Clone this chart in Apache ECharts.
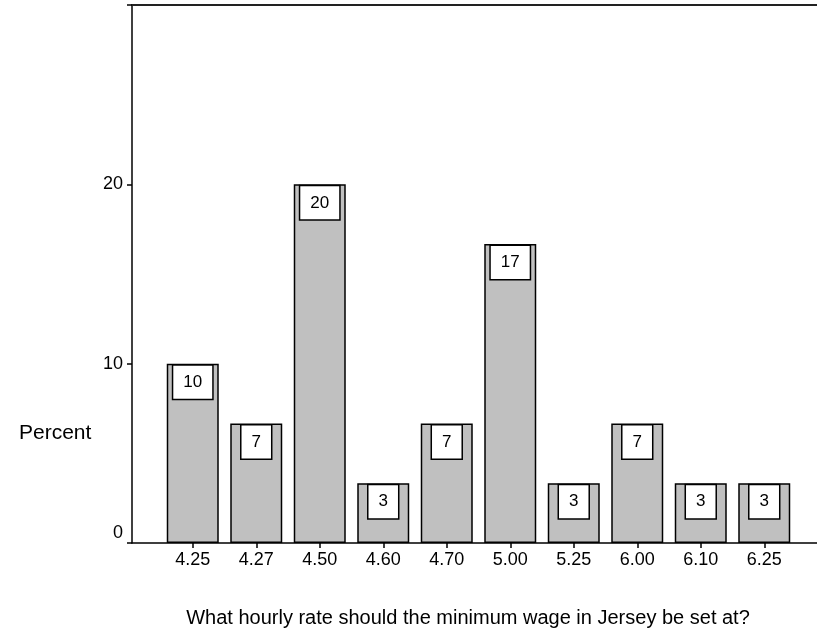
<!DOCTYPE html>
<html>
<head>
<meta charset="utf-8">
<script src="https://cdn.jsdelivr.net/npm/echarts@6/dist/echarts.min.js"></script>
<style>html,body{margin:0;padding:0;background:#fff;}#c{width:817px;height:635px;}</style>
</head>
<body>
<div id="c"></div>
<script>
const categories = ['4.25','4.27','4.50','4.60','4.70','5.00','5.25','6.00','6.10','6.25'];
const percents = [10.0, 6.67, 20.0, 3.33, 6.67, 16.67, 3.33, 6.67, 3.33, 3.33];
const yTicks = [0, 10, 20, 30];
const yLabel = 'Percent';
const xTitle = 'What hourly rate should the minimum wage in Jersey be set at?';

const FONT = 'Liberation Sans, Arial, sans-serif';
const chart = echarts.init(document.getElementById('c'));
chart.setOption({
  animation: false,
  backgroundColor: '#fff',
  title: {
    text: xTitle, left: 463, top: 603, textAlign: 'center',
    textStyle: {fontFamily: FONT, fontSize: 20, fontWeight: 'normal', color: '#000'}
  },
  graphic: [{
    type: 'text', left: 19, top: 423,
    style: {text: yLabel, font: '21px ' + FONT, fill: '#000'}
  }],
  grid: [
    {left: 132, right: 0, top: 5, bottom: 92},
    {left: 161, right: 21, top: 5, bottom: 92}
  ],
  xAxis: [
    {gridIndex: 0, type: 'value', min: 0, max: 1, position: 'bottom',
     axisLine: {show: true, lineStyle: {color: '#000', width: 1.5}},
     axisTick: {show: false}, axisLabel: {show: false}, splitLine: {show: false}},
    {gridIndex: 0, type: 'value', min: 0, max: 1, position: 'top',
     axisLine: {show: true, lineStyle: {color: '#222', width: 2}},
     axisTick: {show: false}, axisLabel: {show: false}, splitLine: {show: false}},
    {gridIndex: 1, type: 'category', data: categories,
     axisLine: {show: false},
     axisTick: {show: true, alignWithLabel: true, length: 5, lineStyle: {color: '#000', width: 1.5}},
     axisLabel: {color: '#000', fontFamily: FONT, fontSize: 18, margin: 8},
     splitLine: {show: false}}
  ],
  yAxis: [
    {gridIndex: 0, type: 'value', min: yTicks[0], max: yTicks[yTicks.length - 1], interval: 10,
     axisLine: {show: true, lineStyle: {color: '#000', width: 1.5}},
     axisTick: {show: true, length: 5, lineStyle: {color: '#000', width: 1.5}},
     axisLabel: {color: '#000', fontFamily: FONT, fontSize: 18, margin: 9,
       formatter: v => v === yTicks[yTicks.length - 1] ? '' : (v === 0 ? '{z|0}' : String(v)),
       rich: {z: {fontFamily: FONT, fontSize: 18, color: '#000', padding: [0, 0, 20, 0]}}},
     splitLine: {show: false}},
    {gridIndex: 1, type: 'value', min: yTicks[0], max: yTicks[yTicks.length - 1], show: false}
  ],
  series: [{
    type: 'bar', xAxisIndex: 2, yAxisIndex: 1,
    data: percents, barWidth: 52,
    itemStyle: {color: '#c0c0c0', borderColor: '#000', borderWidth: 1.5},
    label: {
      show: true, position: 'insideTop', distance: 2,
      formatter: p => String(Math.round(p.value)),
      fontFamily: FONT, fontSize: 17, color: '#000', lineHeight: 17,
      backgroundColor: '#fff', borderColor: '#000', borderWidth: 1.5,
      padding: [8, 10]
    }
  }]
});
</script>
</body>
</html>
